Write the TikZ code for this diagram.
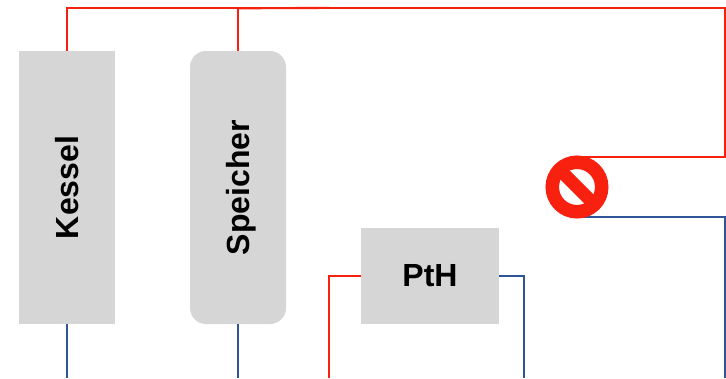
\documentclass[tikz,border=0pt]{standalone}
\usepackage{fontspec}
\setmainfont{Liberation Sans}
\usetikzlibrary{backgrounds}
\definecolor{hot}{HTML}{F8200E}
\definecolor{cold}{HTML}{2F5597}
\definecolor{boxgray}{HTML}{D6D6D6}
\begin{document}
\begin{tikzpicture}[x=1pt,y=-1pt,
  unit/.style={fill=boxgray,inner sep=0pt,outer sep=0pt,anchor=center,font=\fontsize{32}{34}\selectfont\bfseries},
  hotline/.style={draw=hot,line width=2.1pt},
  coldline/.style={draw=cold,line width=2.1pt},
  stopsign/.style={circle,draw=hot,line width=13.5pt,minimum size=49.5pt,inner sep=0pt,
    path picture={\draw[hot,line width=13pt] (path picture bounding box.north west)--(path picture bounding box.south east);}}]
\useasboundingbox (0,0) rectangle (726,378);
\node[unit,minimum width=96pt,minimum height=273pt] (kessel) at (67,187.5) {\hspace*{1pt}\rotatebox{90}{Kessel}};
\node[unit,rounded corners=16pt,minimum width=96pt,minimum height=273pt] (speicher) at (238,187.5) {\hspace*{7pt}\rotatebox{90}{Speicher}};
\node[unit,minimum width=138pt,minimum height=96pt] (pth) at (430,276) {PtH};
\node[stopsign] (stop) at (577,187) {};
\coordinate (tl) at (67,8.3);
\coordinate (tm) at (238,8.3);
\coordinate (tx) at (329,7.9);
\coordinate (tr) at (725.5,8.3);
\coordinate (rh) at (725.5,156.7);
\coordinate (rc) at (725.5,217.3);
\coordinate (rb) at (725.5,378);
\coordinate (kb) at (67,378);
\coordinate (sb) at (238,378);
\coordinate (pl) at (329,276);
\coordinate (plb) at (329,378);
\coordinate (pr) at (524,276);
\coordinate (prb) at (524,378);
\begin{scope}[on background layer]
\draw[hotline,line join=miter] (kessel.north) -- (tl) -- (tr) -- (rh) -- (rh -| stop);
\draw[coldline,line join=miter] (rc -| stop) -- (rc) -- (rb);
\end{scope}
\draw[hotline] (speicher.north) -- (tm);
\draw[hotline] (tm) -- (tx);
\draw[coldline] (kessel.south) -- (kb);
\draw[coldline] (speicher.south) -- (sb);
\draw[hotline,line join=miter] (pth.west) -- (pl) -- (plb);
\draw[coldline,line join=miter] (pth.east) -- (pr) -- (prb);
\end{tikzpicture}
\end{document}
